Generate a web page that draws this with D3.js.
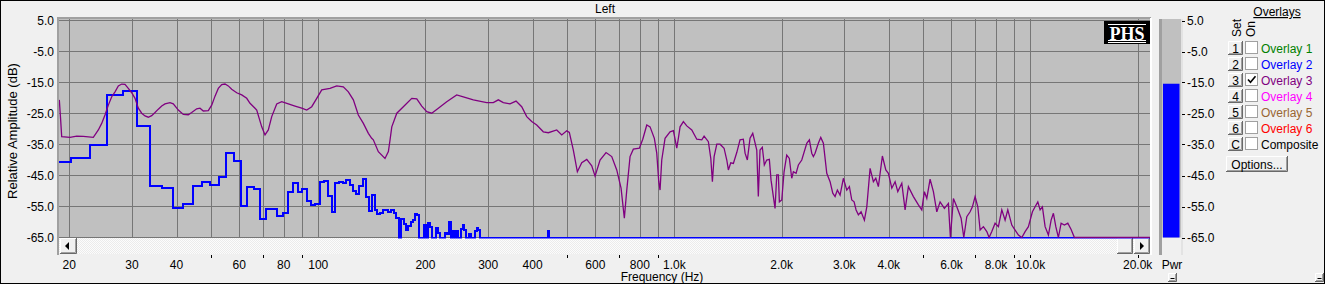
<!DOCTYPE html>
<html>
<head>
<meta charset="utf-8">
<script src="https://cdn.jsdelivr.net/npm/d3@7/dist/d3.min.js"></script>
<style>
  body { margin: 0; background: #f0f0f0; }
  svg { display: block; font-family: "Liberation Sans", Arial, sans-serif; font-size: 12px; }
</style>
</head>
<body>
<div id="chart"></div>
<script>
// ---- data ----
const gridFreqs = [20, 30, 40, 50, 60, 70, 80, 90, 100, 200, 300, 400, 500, 600, 700, 800, 900,
  1000, 2000, 3000, 4000, 5000, 6000, 7000, 8000, 9000, 10000, 20000];
const labelFreqs = [20, 30, 40, 60, 80, 100, 200, 300, 400, 600, 800,
  1000, 2000, 3000, 4000, 6000, 8000, 10000, 20000];
const tickFreqs = [50, 70, 90, 500, 700, 900, 5000, 7000, 9000, 10000, 20000];
const dbTicks = [5, -5, -15, -25, -35, -45, -55, -65];

// RTA bins (FFT bin width 2.69 Hz), first bin index 7
const binHz = 2.6917;
const firstBin = 7;
const rtaDb = [
  -40.6, -39.5, -35.2, -19.0, -17.8, -29.0, -48.4, -49.0, -55.4, -54.3,
  -48.5, -47.1, -48.2, -45.6, -37.7, -40.3, -54.9, -48.8, -49.5, -59.1,
  -55.9, -55.9, -58.0, -57.1, -50.4, -47.5, -50.4, -49.5, -53.3, -54.6,
  -54.2, -47.1, -46.9, -51.6, -56.9, -47.5, -47.2, -47.5, -46.3, -48.1,
  -50.0, -51.0, -48.3, -46.1, -51.8, -56.3, -51.4, -56.1, -57.4, -57.0,
  -56.2, -56.0, -56.7, -56.2, -57.2, -58.8, -65, -59.1, -60.6, -62.6,
  -61.3, -59.9, -59.4, -57.4, -57.7, -65, -65, -61.0, -65, -60.2,
  -61.5, -65, -65, -62.0, -63.4, -65, -65, -65, -63.4, -64.0,
  -60.1, -65, -62.8, -65, -62.8, -65, -65, -62.4, -61.0, -62.6,
  -65, -65, -64.0, -65, -65, -65, -62.8, -62.0, -62.6, -65,
  -65, -65, -65, -65, -65, -65, -65, -65, -65, -65,
  -65, -65, -65, -65, -65, -65, -65, -65, -65, -65,
  -65, -65, -65, -65, -65, -65, -65, -65, -65, -65,
  -65, -65, -65, -65, -65, -65, -65, -65, -65, -65,
  -65, -65, -65, -65, -65, -65, -65, -65, -65, -65,
  -65, -65, -65, -65, -65, -65, -65, -65, -62.8, -65
];

// Overlay 3 (frequency response)
const ovFreq = [
  18.75, 18.9, 19.04, 20.09, 20.98, 21.9, 23.36, 24.13, 24.66, 25.19,
  25.74, 26.31, 26.88, 27.46, 28.07, 28.67, 29.29, 29.94, 30.59, 31.25,
  31.94, 32.63, 33.33, 34.07, 34.81, 35.56, 36.35, 37.13, 38.35, 39.18,
  40.47, 41.8, 43.17, 44.13, 45.58, 46.56, 47.57, 49.13, 50.22, 51.31,
  52.41, 53.58, 54.73, 55.91, 57.15, 59.03, 60.98, 62.98, 64.34, 66.45,
  67.19, 69.4, 70.89, 72.42, 74.03, 76.46, 78.98, 82.42, 86.07, 89.88,
  92.83, 95.89, 99.04, 102.3, 107.9, 112.7, 117.6, 121.5, 125.5, 129.6,
  133.9, 138.3, 141.3, 142.8, 147.5, 154.0, 157.4, 159.1, 160.9, 166.2,
  173.4, 183.1, 189.1, 195.3, 201.7, 208.3, 217.4, 229.5, 244.8, 255.5,
  272.6, 297.2, 310.2, 320.4, 330.9, 345.6, 359.3, 372.7, 385, 397.6,
  410.7, 428.6, 442.7, 467.4, 482.8, 498.7, 507.1, 520.4, 534.1, 549.5,
  567.6, 586.2, 598.9, 618.5, 643, 667.1, 689, 708.5, 723.7, 735.1,
  750.9, 767.1, 797.5, 815.2, 836.6, 854.6, 878.6, 892.4, 904, 911.6,
  921.7, 941.6, 972.6, 993.6, 1004.6, 1015.7, 1026.2, 1037.6, 1060, 1083.6,
  1119.2, 1156, 1194, 1212, 1246, 1265.7, 1278.8, 1293, 1315.8, 1344,
  1379, 1403.5, 1418, 1440, 1464.6, 1497, 1529, 1562, 1579.6, 1603,
  1631, 1660, 1703.7, 1721, 1740, 1766, 1789, 1817, 1848, 1868.6,
  1896.6, 1917.5, 1938.8, 1959, 1971.8, 2002.6, 2032.6, 2068, 2103, 2136,
  2158.6, 2196.6, 2229.6, 2279, 2354, 2394, 2431, 2456.6, 2483.8, 2537,
  2577, 2620.8, 2679, 2736.8, 2785, 2826.8, 2869, 2919.6, 2982.6, 3049,
  3100.8, 3149, 3196.6, 3238, 3286.6, 3344, 3416.6, 3470, 3544.8, 3621,
  3678, 3740, 3838, 3924, 3990, 4079, 4167, 4240, 4351.6, 4445,
  4541, 4690.6, 4844.6, 4952, 5036, 5115, 5225, 5338, 5456.6, 5574,
  5731.6, 5881.8, 5958, 6075, 6210, 6385, 6497, 6624.6, 6767.6, 6869,
  6990, 7113, 7219.6, 7375, 7539, 7652, 7787, 7954.6, 8126, 8307,
  8486, 8635, 8862, 9053, 9248, 9453.6, 9657.6, 9866, 10125, 10303,
  10484, 10641, 10801, 10991, 11229, 11426, 11597, 11779, 11978, 12189,
  12452, 12728, 13004, 13284, 21660
];
const ovDb = [
  -20.6, -26.5, -32.5, -32.7, -32.3, -32.4, -32.7, -30.3, -28.2, -25.5,
  -22.3, -19.6, -18.0, -16.1, -15.5, -15.6, -16.9, -18.3, -20.1, -23.3,
  -24.9, -25.8, -26.2, -25.7, -24.7, -23.6, -22.6, -21.9, -21.5, -21.9,
  -23.9, -25.3, -25.4, -24.7, -23.5, -23.3, -24.2, -24.1, -22.3, -19.4,
  -16.9, -15.7, -15.5, -16.1, -17.2, -18.3, -19.0, -20.1, -21.7, -23.3,
  -23.9, -29.3, -31.9, -30.3, -26.0, -21.9, -21.2, -21.9, -22.6, -23.3,
  -23.9, -22.8, -20.1, -17.4, -16.9, -16.1, -16.4, -18.0, -20.6, -25.5,
  -28.2, -31.4, -33.0, -33.5, -37.3, -39.5, -37.3, -33.5, -29.3, -24.9,
  -22.8, -20.1, -20.3, -22.6, -24.4, -24.9, -23.3, -21.2, -19.0, -19.6,
  -20.6, -21.5, -21.5, -20.6, -21.5, -21.9, -21.0, -22.8, -26.0, -27.6,
  -28.7, -30.9, -31.2, -30.3, -31.9, -30.6, -31.1, -36.8, -43.8, -40.9,
  -39.8, -41.9, -45.2, -40.0, -37.6, -38.9, -43.2, -49.1, -58.8, -49.7,
  -38.9, -36.5, -36.2, -33.3, -28.7, -29.3, -33.0, -37.8, -47.0, -49.7,
  -40.0, -33.0, -30.9, -30.5, -33.3, -36.2, -33.0, -29.3, -27.6, -29.0,
  -30.3, -33.3, -33.5, -32.3, -34.1, -39.5, -47.0, -38.9, -34.9, -34.9,
  -36.2, -40.0, -43.2, -40.9, -41.1, -37.6, -33.5, -33.3, -37.8, -40.0,
  -33.0, -31.4, -36.8, -51.8, -36.8, -35.9, -41.6, -40.0, -39.8, -46.5,
  -51.8, -55.6, -44.8, -44.8, -53.5, -52.9, -43.8, -38.4, -39.5, -45.9,
  -43.8, -44.3, -41.6, -40.0, -34.6, -33.5, -37.8, -38.9, -37.8, -34.6,
  -32.7, -34.6, -44.3, -47.0, -50.7, -51.8, -49.7, -51.3, -45.9, -49.7,
  -48.6, -52.9, -53.5, -56.1, -57.7, -56.7, -59.4, -55.1, -42.7, -47.0,
  -45.9, -48.6, -38.7, -43.2, -44.3, -49.1, -47.0, -50.2, -47.5, -56.1,
  -48.6, -51.8, -54.5, -56.1, -50.2, -52.4, -46.2, -50.2, -56.7, -53.5,
  -55.6, -54.0, -65, -52.4, -55.1, -58.8, -65, -58.3, -56.7, -55.1,
  -51.8, -55.1, -62.6, -61.5, -63.1, -65, -63.1, -60.4, -61.5, -56.1,
  -59.4, -56.1, -61.0, -62.6, -64.2, -65, -63.1, -61.5, -56.7, -55.1,
  -53.5, -56.1, -55.1, -61.5, -64.2, -59.4, -57.2, -61.5, -65, -60.4,
  -61.0, -60.4, -62.4, -65, -65
];

const pwrDb = -15.4;

const setKeys = ["1", "2", "3", "4", "5", "6", "C"];
const overlayNames = ["Overlay 1", "Overlay 2", "Overlay 3", "Overlay 4", "Overlay 5", "Overlay 6", "Composite"];
const overlayOn = [false, false, true, false, false, false, false];
const overlayColors = ["#008000", "#0000ff", "#800080", "#ff00ff", "#996633", "#ff0000", "#000000"];

// ---- layout ----
const W = 1325, H = 284;
const plot = { left: 59, top: 19, right: 1150, bottom: 237.5, scroll: 254 };

const svg = d3.select("#chart").append("svg")
    .attr("width", W)
    .attr("height", H);

svg.append("rect").attr("width", W).attr("height", H).attr("fill", "#f0f0f0");

const x = d3.scaleLog().domain([20, 20000]).range([69.3, 1137.7]);
const y = d3.scaleLinear().domain([-65, 5]).range([237.5, 20.5]);
const px = v => Math.round(v) + 0.5;

// plot background
svg.append("rect")
    .attr("x", plot.left).attr("y", plot.top)
    .attr("width", plot.right - plot.left).attr("height", plot.bottom - plot.top)
    .attr("fill", "#c0c0c0");

// grid
svg.append("g").selectAll("line").data(gridFreqs).enter().append("line")
    .attr("x1", d => px(x(d))).attr("x2", d => px(x(d)))
    .attr("y1", plot.top).attr("y2", plot.bottom)
    .attr("stroke", "#767676").attr("stroke-width", 1);

svg.append("g").selectAll("line").data(dbTicks).enter().append("line")
    .attr("x1", plot.left).attr("x2", plot.right)
    .attr("y1", d => y(d)).attr("y2", d => y(d))
    .attr("stroke", "#767676").attr("stroke-width", 1);

// scrollbar strip under the plot
const defs = svg.append("defs");
const pat = defs.append("pattern").attr("id", "dots")
    .attr("width", 2).attr("height", 2).attr("patternUnits", "userSpaceOnUse");
pat.append("rect").attr("width", 2).attr("height", 2).attr("fill", "#fcfcfc");
pat.append("rect").attr("width", 1).attr("height", 1).attr("fill", "#ebebeb");
pat.append("rect").attr("x", 1).attr("y", 1).attr("width", 1).attr("height", 1).attr("fill", "#ebebeb");

svg.append("rect")
    .attr("x", plot.left).attr("y", 238)
    .attr("width", plot.right - plot.left).attr("height", plot.scroll - 238)
    .attr("fill", "url(#dots)");

function button(g, bx, by, bw, bh) {
  g.append("rect").attr("x", bx).attr("y", by).attr("width", bw).attr("height", bh).attr("fill", "#f0f0f0");
  g.append("path")
      .attr("d", `M${bx + 0.5},${by + bh - 1} V${by + 0.5} H${bx + bw - 1}`)
      .attr("fill", "none").attr("stroke", "#ffffff");
  g.append("path")
      .attr("d", `M${bx + 1},${by + bh - 1.5} H${bx + bw - 1.5} V${by + 1}`)
      .attr("fill", "none").attr("stroke", "#a0a0a0");
  g.append("path")
      .attr("d", `M${bx},${by + bh - 0.5} H${bx + bw - 0.5} V${by}`)
      .attr("fill", "none").attr("stroke", "#696969");
}

const sb = svg.append("g");
button(sb, 60, 238, 17, 16);
sb.append("path").attr("d", "M65,246 L69,242 L69,250 Z").attr("fill", "#000");
button(sb, 1117, 238, 16, 16);
button(sb, 1134, 238, 16, 16);
sb.append("path").attr("d", "M1144,246 L1140,242 L1140,250 Z").attr("fill", "#000");

// frame of the plot panel
svg.append("path")
    .attr("d", `M${plot.left - 1},${plot.scroll + 1} V${plot.top - 1} H${plot.right + 1}`)
    .attr("fill", "none").attr("stroke", "#a0a0a0").attr("stroke-width", 2);
svg.append("path")
    .attr("d", `M${plot.right + 1},${plot.top - 1} V${plot.scroll + 1}`)
    .attr("fill", "none").attr("stroke", "#ffffff").attr("stroke-width", 2);

// clip for the curves
defs.append("clipPath").attr("id", "clip").append("rect")
    .attr("x", plot.left).attr("y", plot.top)
    .attr("width", plot.right - plot.left).attr("height", 238.6 - plot.top);

// RTA steps
const rtaSteps = [];
rtaDb.forEach((v, i) => {
  const k = firstBin + i;
  rtaSteps.push({ f: (k - 0.5) * binHz, v: v });
  rtaSteps.push({ f: (k + 0.5) * binHz, v: v });
});
rtaSteps.push({ f: x.invert(plot.right + 2), v: -65 });

const curve = d3.line()
    .x(d => x(d.f))
    .y(d => y(d.v));

svg.append("path")
    .datum(rtaSteps)
    .attr("clip-path", "url(#clip)")
    .attr("d", curve)
    .attr("fill", "none")
    .attr("stroke", "#0000ff")
    .attr("stroke-width", 2)
    .attr("shape-rendering", "crispEdges");

// overlay 3 curve
const ovData = ovFreq.map((f, i) => ({ f: f, v: ovDb[i] }));
svg.append("path")
    .datum(ovData)
    .attr("clip-path", "url(#clip)")
    .attr("d", curve)
    .attr("fill", "none")
    .attr("stroke", "#800080")
    .attr("stroke-width", 1.3);

// PHS logo
const logo = svg.append("g");
logo.append("rect").attr("x", 1104).attr("y", 21).attr("width", 46).attr("height", 23).attr("fill", "#000");
logo.append("line").attr("x1", 1108).attr("x2", 1146).attr("y1", 24.5).attr("y2", 24.5).attr("stroke", "#fff");
logo.append("line").attr("x1", 1108).attr("x2", 1146).attr("y1", 40.5).attr("y2", 40.5).attr("stroke", "#fff");
logo.append("line").attr("x1", 1108).attr("x2", 1146).attr("y1", 42.5).attr("y2", 42.5).attr("stroke", "#fff");
logo.append("text").attr("x", 1127).attr("y", 39.5)
    .attr("text-anchor", "middle")
    .style("font-family", "'Liberation Serif', 'Times New Roman', serif")
    .style("font-weight", "bold").style("font-size", "18px")
    .attr("fill", "#fff").text("PHS");

// y axis labels
svg.append("g").selectAll("text").data(dbTicks).enter().append("text")
    .attr("x", 54).attr("y", d => y(d) + 4.5)
    .attr("text-anchor", "end")
    .text(d => d.toFixed(1));

svg.append("text")
    .attr("transform", "translate(17,131) rotate(-90)")
    .attr("text-anchor", "middle")
    .style("font-size", "13px")
    .text("Relative Amplitude (dB)");

// x axis ticks and labels
svg.append("g").selectAll("line").data(tickFreqs).enter().append("line")
    .attr("x1", d => px(x(d))).attr("x2", d => px(x(d)))
    .attr("y1", 255).attr("y2", 258)
    .attr("stroke", "#000");

const fmtFreq = f => f >= 1000 ? (f / 1000).toFixed(1) + "k" : String(f);
svg.append("g").selectAll("text").data(labelFreqs).enter().append("text")
    .attr("x", d => x(d)).attr("y", 269)
    .attr("text-anchor", "middle")
    .text(fmtFreq);

svg.append("text").attr("x", 662).attr("y", 281).attr("text-anchor", "middle").text("Frequency (Hz)");
svg.append("text").attr("x", 605).attr("y", 13).attr("text-anchor", "middle").text("Left");

// power meter
const pwr = svg.append("g");
pwr.append("rect").attr("x", 1159).attr("y", plot.top).attr("width", 3).attr("height", plot.scroll + 1 - plot.top).attr("fill", "#a0a0a0");
pwr.append("rect").attr("x", 1162).attr("y", plot.top).attr("width", 19).attr("height", plot.bottom - plot.top).attr("fill", "#c0c0c0");
pwr.append("rect").attr("x", 1181).attr("y", plot.top).attr("width", 2).attr("height", plot.scroll + 1 - plot.top).attr("fill", "#e3e3e3");
pwr.append("rect").attr("x", 1163).attr("y", y(pwrDb)).attr("width", 16.5).attr("height", y(-65) - y(pwrDb)).attr("fill", "#0000ff");

pwr.selectAll("line.tk").data(dbTicks).enter().append("line")
    .attr("x1", 1182).attr("x2", 1185)
    .attr("y1", d => px(y(d))).attr("y2", d => px(y(d)))
    .attr("stroke", "#000");
pwr.selectAll("text.lb").data(dbTicks).enter().append("text")
    .attr("x", 1187).attr("y", d => y(d) + 4.5)
    .text(d => d.toFixed(1));
pwr.append("text").attr("x", 1172).attr("y", 269).attr("text-anchor", "middle").text("Pwr");

function minusBtn(bx, by) {
  const g = svg.append("g");
  button(g, bx, by, 9, 9);
  g.append("line").attr("x1", bx + 2.5).attr("x2", bx + 6.5).attr("y1", by + 5.5).attr("y2", by + 5.5).attr("stroke", "#000");
}
minusBtn(1168, 273);
minusBtn(1315, 273);

// overlays panel
const panel = svg.append("g");
panel.append("text").attr("x", 1277).attr("y", 16).attr("text-anchor", "middle")
    .style("text-decoration", "underline").text("Overlays");
panel.append("text").attr("transform", "translate(1241,37) rotate(-90)").text("Set");
panel.append("text").attr("transform", "translate(1255,37) rotate(-90)").text("On");

setKeys.forEach((k, i) => {
  const ry = 48 + i * 16;
  button(panel, 1228, ry - 7, 15, 14);
  panel.append("text").attr("x", 1235.5).attr("y", ry + 4.5).attr("text-anchor", "middle").text(k);
  panel.append("rect").attr("x", 1245.5).attr("y", ry - 6.5).attr("width", 12).attr("height", 12)
      .attr("fill", "#fff").attr("stroke", "#a0a0a0");
  if (overlayOn[i]) {
    panel.append("path").attr("d", `M1248,${ry - 0.5} l2.5,2.8 l5,-6`)
        .attr("fill", "none").attr("stroke", "#000").attr("stroke-width", 1.6);
  }
  panel.append("text").attr("x", 1261).attr("y", ry + 4.5)
      .attr("fill", overlayColors[i]).text(overlayNames[i]);
});

button(panel, 1226, 156, 62, 16);
panel.append("text").attr("x", 1257).attr("y", 168.5).attr("text-anchor", "middle").text("Options...");

// window border
svg.append("rect").attr("x", 0.5).attr("y", 0.5).attr("width", W - 1).attr("height", H - 1)
    .attr("fill", "none").attr("stroke", "#000");
</script>
</body>
</html>
